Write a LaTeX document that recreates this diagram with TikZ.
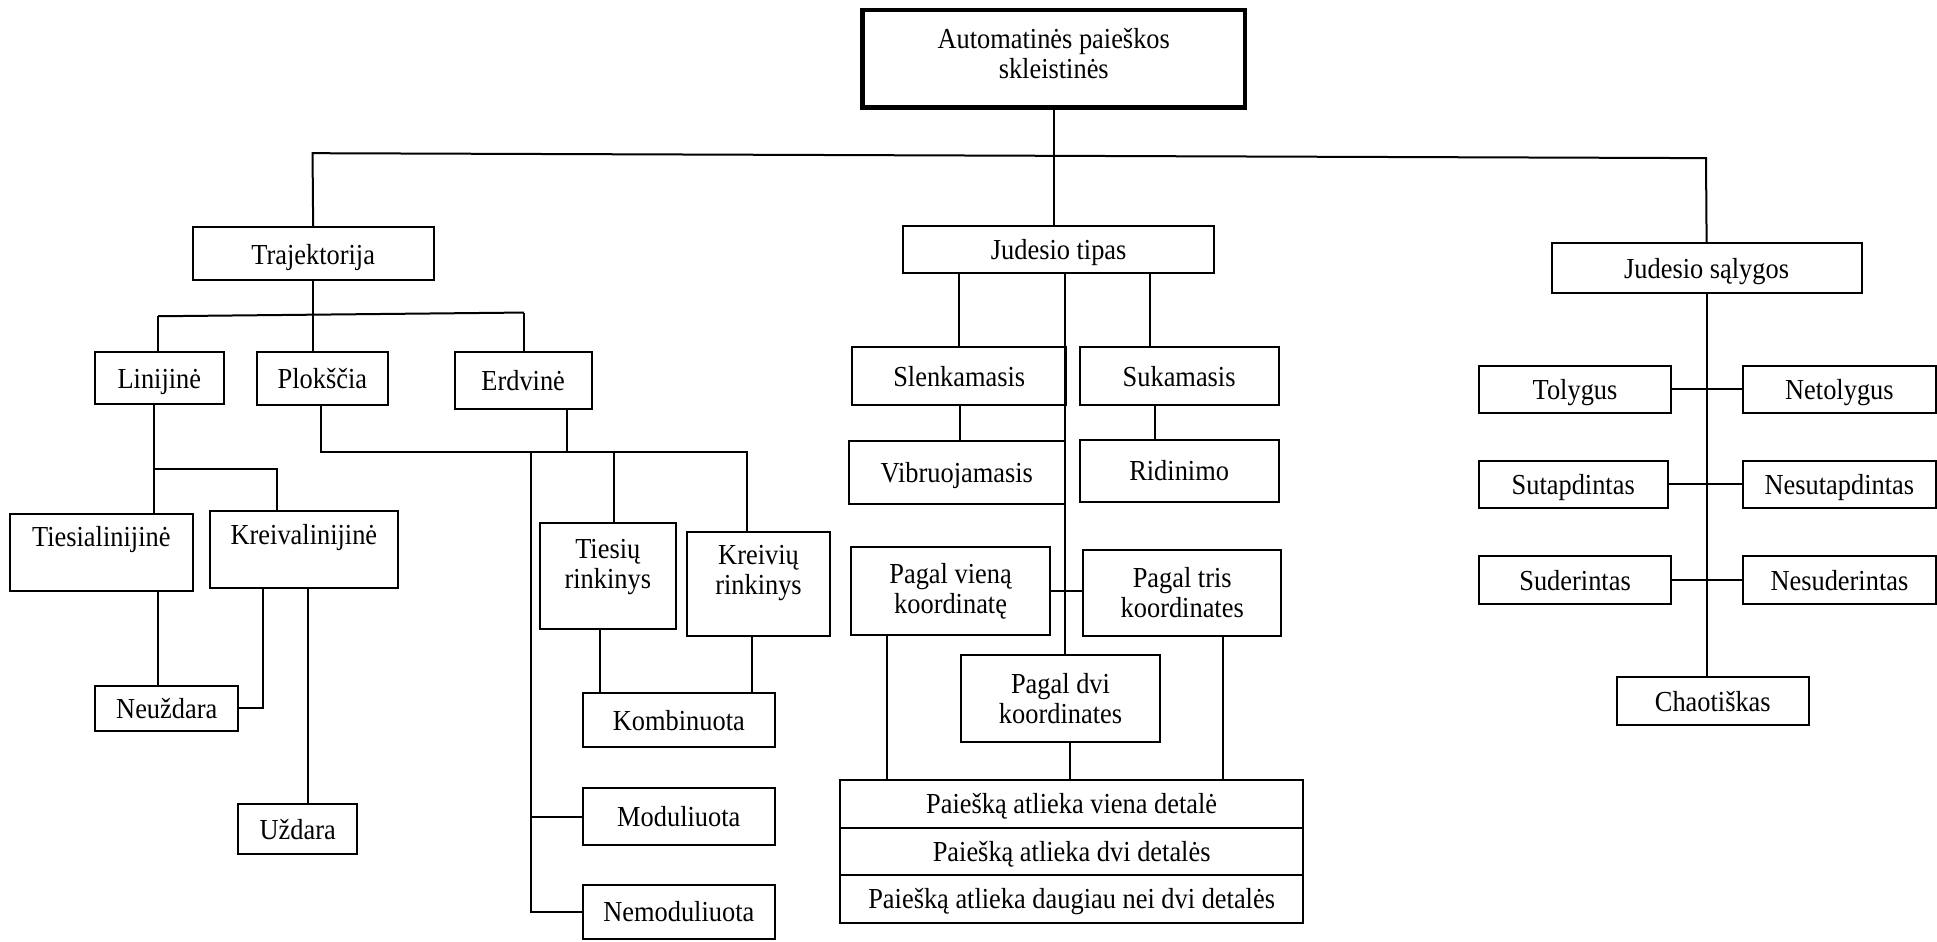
\documentclass[tikz,border=0pt]{standalone}
\usepackage{fontspec}
\setmainfont[FakeStretch=0.91]{Liberation Serif}
\begin{document}
\tikzset{
  box/.style={draw, line width=2pt, inner sep=0pt, font=\fontsize{29}{30}\selectfont, text height=27pt, text depth=6.5pt},
  box2/.style={draw, line width=2pt, inner sep=0pt},
  txt2/.style={align=center, font=\fontsize{29}{30}\selectfont, inner sep=0pt},
  conn/.style={line width=2pt},
}
\newcommand\bx[6][box]{\node[#1,minimum width={(#4-#2)*1.2353pt},minimum height={(#5-#3)*1.2353pt}] (#6) at ({(#2+#4)/2},{(#3+#5)/2}) {};}
\newcommand\bt[7][box]{\node[#1,minimum width={(#4-#2)*1.2353pt},minimum height={(#5-#3)*1.2353pt}] (#6) at ({(#2+#4)/2},{(#3+#5)/2}) {#7};}
\begin{tikzpicture}[x=1.2353pt,y=-1.2353pt]
\useasboundingbox (0,0) rectangle (1568,762);
% boxes
\bx[box2, line width=4.5pt, label={[txt2, yshift=5.5pt]center:Automatinės paieškos\\skleistinės}]{698}{8}{1008}{87}{root}
\bt{156}{184}{351}{227}{traj}{Trajektorija}
\bt{731}{183}{983}{221}{jt}{Judesio tipas}
\bt{1256}{197}{1507}{237}{js}{Judesio sąlygos}
\bt{77}{285}{181}{327}{lin}{Linijinė}
\bt{208}{285}{314}{328}{plok}{Plokščia}
\bt{368}{285}{479}{331}{erd}{Erdvinė}
\bt[box, text depth=38pt]{8}{416}{156}{478}{ties}{Tiesialinijinė}
\bt[box, text depth=38pt]{170}{414}{322}{476}{kreiv}{Kreivalinijinė}
\bt{77}{555}{193}{592}{neu}{Neuždara}
\bt{193}{651}{289}{691}{uzd}{Uždara}
\bx[box2, label={[txt2, yshift=9pt]center:Tiesių\\rinkinys}]{437}{423}{547}{509}{tiesr}
\bx[box2, label={[txt2, yshift=11pt]center:Kreivių\\rinkinys}]{556}{431}{672}{515}{kreivr}
\bt{472}{561}{627}{605}{komb}{Kombinuota}
\bt{472}{638}{627}{684}{mod}{Moduliuota}
\bt{472}{716}{627}{760}{nemod}{Nemoduliuota}
\bt{690}{281}{863}{328}{slen}{Slenkamasis}
\bt{874}{281}{1035}{328}{suk}{Sukamasis}
\bt{687}{357}{862}{408}{vibr}{Vibruojamasis}
\bt{874}{356}{1035}{406}{rid}{Ridinimo}
\bx[box2, label={[txt2]center:Pagal vieną\\koordinatę}]{689}{443}{850}{514}{vien}
\bx[box2, label={[txt2]center:Pagal tris\\koordinates}]{877}{445}{1037}{515}{tris}
\bx[box2, label={[txt2]center:Pagal dvi\\koordinates}]{778}{530}{939}{601}{dvi}
\bt{680}{631}{1055}{670}{r1}{Paiešką atlieka viena detalė}
\bt{680}{670}{1055}{708}{r2}{Paiešką atlieka dvi detalės}
\bt{680}{708}{1055}{747}{r3}{Paiešką atlieka daugiau nei dvi detalės}
\bt{1197}{296}{1353}{334}{tol}{Tolygus}
\bt{1411}{296}{1567}{334}{netol}{Netolygus}
\bt{1197}{373}{1350}{411}{sut}{Sutapdintas}
\bt{1411}{373}{1567}{411}{nesut}{Nesutapdintas}
\bt{1197}{450}{1353}{489}{sud}{Suderintas}
\bt{1411}{450}{1567}{489}{nesud}{Nesuderintas}
\bt{1309}{548}{1464}{587}{chao}{Chaotiškas}
% helper coordinates
\foreach \xx in {128,213,249,430,459,486,497,609,718,776,777,862,866,931,935,990}
  {\coordinate (x\xx) at (\xx,0);}
% top level
\coordinate (busL) at (253,124);
\coordinate (busR) at (1381,128);
\draw[conn] (traj.north) -- (busL) -- (busR) -- (js.north);
\draw[conn] (root.south) -- (root.south |- jt.north);
% Trajektorija
\coordinate (b2L) at (128,256);
\coordinate (b2R) at (424,253);
\draw[conn] (b2L) -- (b2R);
\draw[conn] (traj.south) -- (traj.south |- plok.north);
\draw[conn] (b2L) -- (b2L |- lin.north);
\draw[conn] (b2R) -- (b2R |- erd.north);
% Linijine
\coordinate (j3) at (125,380);
\coordinate (j3r) at (224,380);
\draw[conn] (lin.south -| j3) -- (j3 |- ties.north);
\draw[conn] (j3) -- (j3r) -- (j3r |- kreiv.north);
\draw[conn] (ties.south -| x128) -- (neu.north -| x128);
\draw[conn] (kreiv.south -| x213) |- (neu.east);
\draw[conn] (kreiv.south -| x249) -- (uzd.north -| x249);
% Ploksciа / Erdvine
\coordinate (b4L) at (260,366);
\coordinate (b4R) at (605,366);
\draw[conn] (plok.south -| b4L) -- (b4L) -- (b4R) -- (b4R |- kreivr.north);
\draw[conn] (erd.south -| x459) -- (x459 |- b4L);
\draw[conn] (x430 |- b4L) -- (x430 |- nemod.west) -- (nemod.west);
\draw[conn] (x430 |- mod.west) -- (mod.west);
\draw[conn] (x497 |- b4L) -- (x497 |- tiesr.north);
\draw[conn] (tiesr.south -| x486) -- (komb.north -| x486);
\draw[conn] (kreivr.south -| x609) -- (komb.north -| x609);
% Judesio tipas
\draw[conn] (jt.south -| x776) -- (slen.north -| x776);
\draw[conn] (jt.south -| x862) -- (dvi.north -| x862);
\draw[conn] (jt.south -| x931) -- (suk.north -| x931);
\draw[conn] (slen.south -| x777) -- (vibr.north -| x777);
\draw[conn] (suk.south -| x935) -- (rid.north -| x935);
\draw[conn] (vien.east) -- (vien.east -| tris.west);
\draw[conn] (vien.south -| x718) -- (r1.north -| x718);
\draw[conn] (dvi.south -| x866) -- (r1.north -| x866);
\draw[conn] (tris.south -| x990) -- (r1.north -| x990);
% Judesio salygos
\draw[conn] (js.south) -- (js.south |- chao.north);
\draw[conn] (tol.east) -- (netol.west);
\draw[conn] (sut.east) -- (nesut.west);
\draw[conn] (sud.east) -- (nesud.west);
\end{tikzpicture}
\end{document}
